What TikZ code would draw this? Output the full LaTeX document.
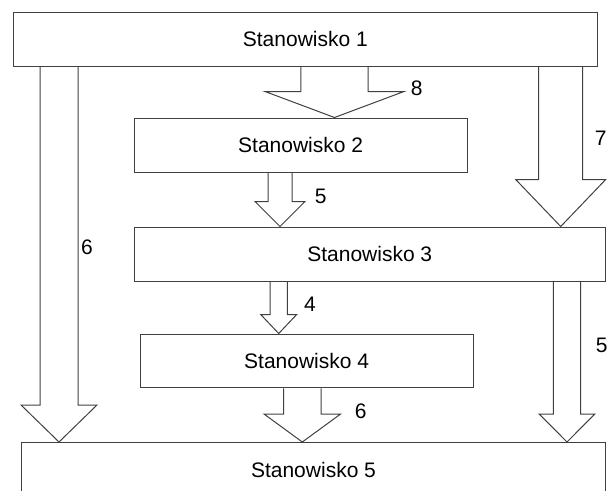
\documentclass[tikz,border=0pt]{standalone}
\usepackage{fontspec}
\setmainfont{Liberation Sans}
\usetikzlibrary{calc}
\tikzset{
  box/.style={draw=black!75, line width=1pt, inner sep=0pt, font=\fontsize{21}{25}\selectfont},
  barrow/.style={draw=black!75, line width=1pt, line join=miter},
  lbl/.style={inner sep=0pt, font=\fontsize{21}{25}\selectfont},
}
% #1 from node, #2 to node, #3 x centre, #4 shaft half width, #5 head half width, #6 head length
\newcommand\blockarr[6]{%
  \draw[barrow] let \p1=(#1.south), \p2=(#2.north) in
    (#3pt-#4pt,\y1) -- (#3pt-#4pt,\y2+#6pt) -- (#3pt-#5pt,\y2+#6pt) -- (#3pt,\y2)
    -- (#3pt+#5pt,\y2+#6pt) -- (#3pt+#4pt,\y2+#6pt) -- (#3pt+#4pt,\y1);
}
\begin{document}
\begin{tikzpicture}[x=1pt,y=-1pt]
\useasboundingbox (0,0) rectangle (615,490);
\node[box, minimum width=583.3pt, minimum height=54.7pt] (s1) at (305.35,39.35) {Stanowisko 1};
\node[box, minimum width=333.3pt, minimum height=54.3pt] (s2) at (300.65,145.15) {Stanowisko 2};
\node[box, minimum width=471.5pt, minimum height=54.3pt] (s3) at (369.75,254.15) {Stanowisko 3};
\node[box, minimum width=333.3pt, minimum height=53.8pt] (s4) at (306.65,360.9) {Stanowisko 4};
\node[box, minimum width=584.4pt, minimum height=54pt] (s5) at (313.5,469.5) {Stanowisko 5};

\blockarr{s1}{s5}{59}{19}{38}{37}
\blockarr{s1}{s2}{334.5}{33.7}{69.5}{26}
\blockarr{s1}{s3}{560.7}{22}{45}{47}
\blockarr{s2}{s3}{280}{12}{25}{25}
\blockarr{s3}{s4}{278.7}{8.7}{18}{19}
\blockarr{s3}{s5}{567}{13.7}{27.8}{28}
\blockarr{s4}{s5}{302.3}{18.7}{38.3}{28}

\node[lbl] (l8) at (416.7,88) {8};
\node[lbl] (l5a) at (320.7,196.7) {5};
\node[lbl] (l7) at (600.7,138.3) {7};
\node[lbl] (l6a) at (87,247.3) {6};
\node[lbl] (l4) at (310,304) {4};
\node[lbl] (l5b) at (601.7,345) {5};
\node[lbl] (l6b) at (360.7,411.7) {6};
\end{tikzpicture}
\end{document}
